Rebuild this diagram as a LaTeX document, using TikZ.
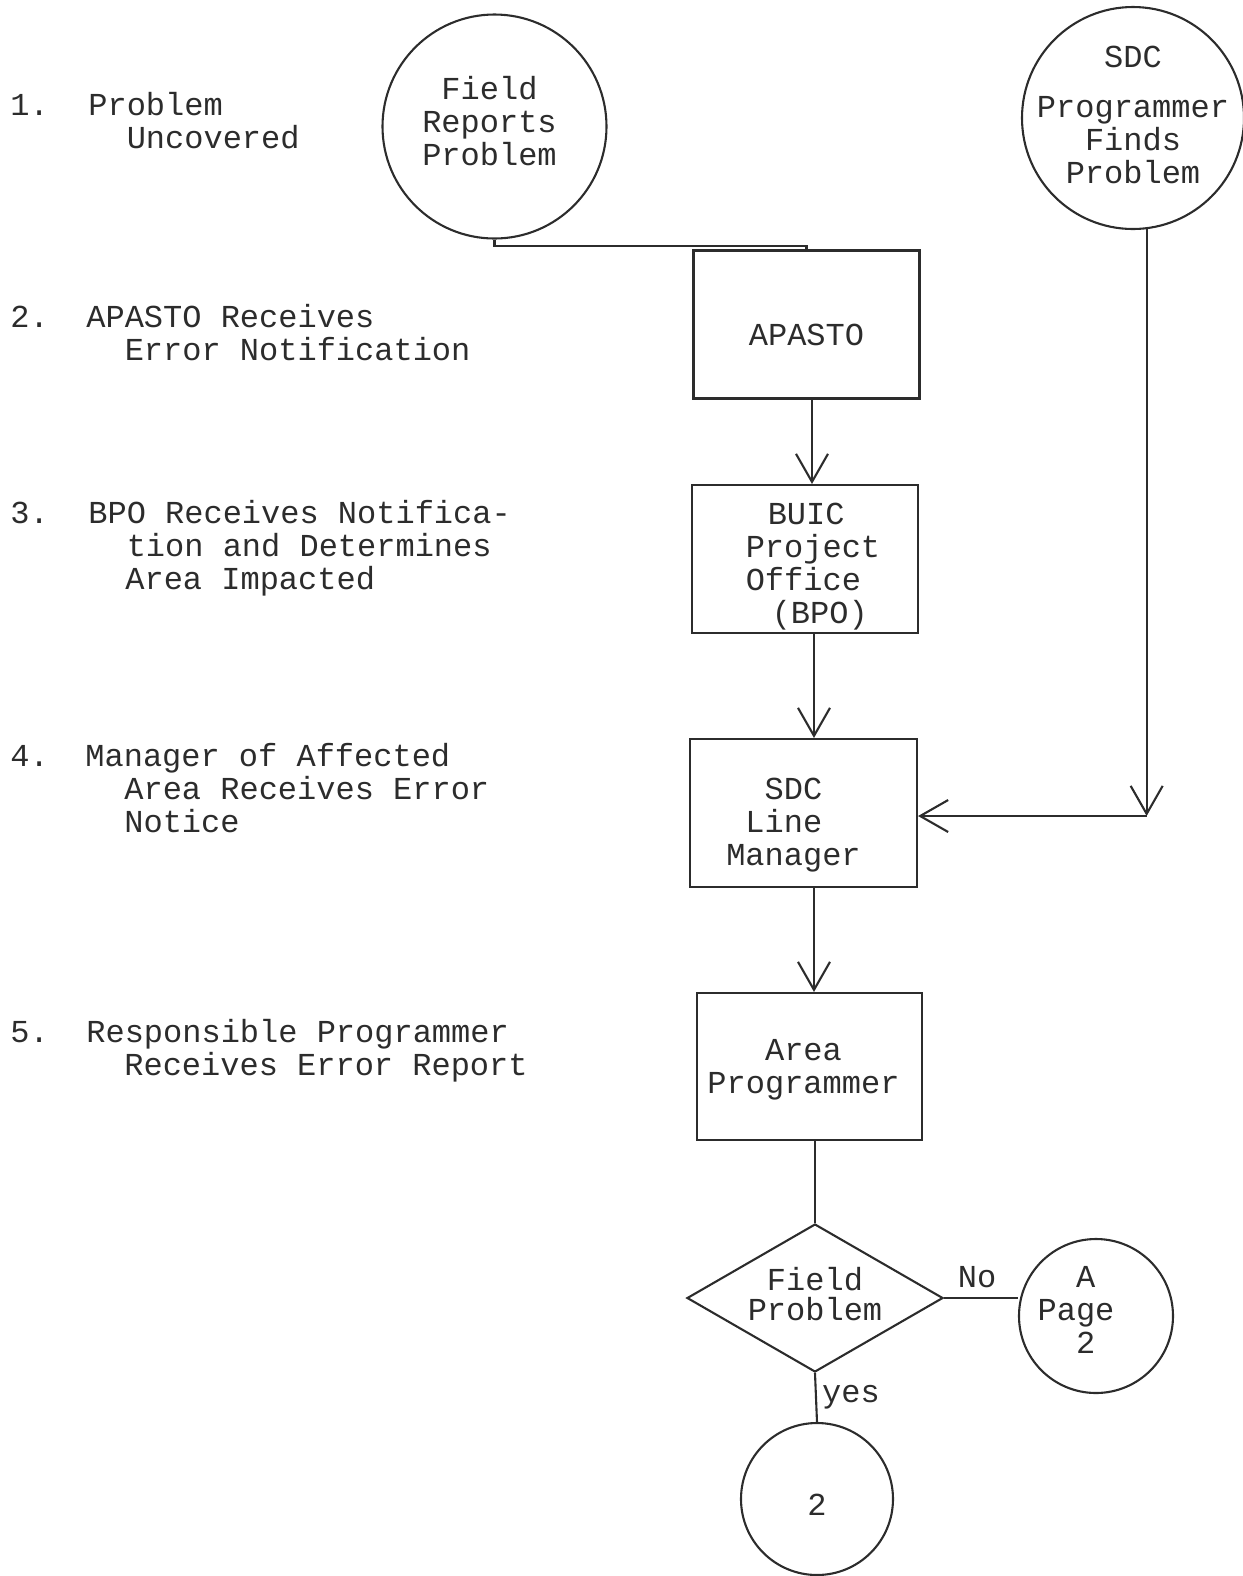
\documentclass[tikz,border=0pt]{standalone}
\usepackage{fontspec}
\setmainfont{Liberation Mono}
\usetikzlibrary{arrows.meta,shapes.geometric}
\definecolor{ink}{HTML}{2C2C2C}
\begin{document}
\begin{tikzpicture}[x=0.5pt,y=-0.5pt,color=ink,
  font=\fontsize{16}{16.5}\selectfont,
  conn/.style={line width=1.05pt},
  arr/.style={conn,-{Straight Barb[length=14pt,width=16pt]}},
  box/.style={draw,conn,minimum width=113pt,minimum height=74pt,inner sep=0pt},
  circ/.style={draw,conn,circle,minimum size=111pt,inner sep=0pt},
  lefttxt/.style={anchor=base west,inner sep=0pt,align=left},
  lbl/.style={inner sep=0pt}]
\useasboundingbox (0,0) rectangle (1243,1576);

% left column texts (base anchor = baseline of last line)
\node[lefttxt] (n1) at (10,115) {1.};
\node[lefttxt] (t1) at (88,148) {Problem\\\hspace*{19.2pt}Uncovered};
\node[lefttxt] (n2) at (10,327) {2.};
\node[lefttxt] (t2) at (86,360) {APASTO Receives\\\hspace*{19.2pt}Error Notification};
\node[lefttxt] (n3) at (10,523) {3.};
\node[lefttxt] (t3) at (88,589) {BPO Receives Notifica-\\\hspace*{19.2pt}tion and Determines\\\hspace*{18.5pt}Area Impacted};
\node[lefttxt] (n4) at (10,766) {4.};
\node[lefttxt] (t4) at (85,832) {Manager of Affected\\\hspace*{19.5pt}Area Receives Error\\\hspace*{19.5pt}Notice};
\node[lefttxt] (n5) at (10,1042) {5.};
\node[lefttxt] (t5) at (86,1075) {Responsible Programmer\\\hspace*{19pt}Receives Error Report};

% flowchart nodes
\node[circ,minimum size=112pt,
  label={[align=center,xshift=-2.5pt,yshift=2.5pt]center:{Field\\Reports\\Problem}}] (fr) at (494.5,126.5) {};
\node[circ,
  label={[align=center,yshift=1.5pt]center:{SDC\\[8.5pt]Programmer\\Finds\\Problem}}] (sdc) at (1133,118) {};
\node[box,label={[yshift=-5pt]center:APASTO}] (apasto) at (806.5,324.5) {};
\node[box,label={[align=left,xshift=4pt,yshift=-3.75pt]center:{\hspace*{11pt}BUIC\\Project\\Office\\\hspace*{13pt}(BPO)}}] (buic) at (805,559) {};
\node[box,minimum width=113.5pt,
  label={[align=left,yshift=-6pt]center:{\hspace*{19.2pt}SDC\\\hspace*{9.6pt}Line\\Manager\hspace*{10pt}}}] (lm) at (803.5,813) {};
\node[box,minimum width=112.5pt,minimum height=73.5pt,
  label={[align=center,xshift=-3pt,yshift=-1.5pt]center:{Area\\Programmer}}] (ap) at (809.5,1066.5) {};
\node[draw,conn,diamond,aspect=1.7,minimum width=128pt,minimum height=74pt,inner sep=0pt,
  label={[align=center,yshift=2pt]center:{Field\\[-1.5pt]Problem}}] (dia) at (815,1298) {};
\node[circ,minimum size=77pt,
  label={[align=left,xshift=-10pt,yshift=3pt]center:{\hspace*{19.2pt}A\\Page\\\hspace*{19.2pt}2}}] (pa) at (1096,1316) {};
\node[circ,minimum size=76pt,label={[yshift=-3pt]center:2}] (c2) at (817,1499) {};

% connectors
\draw[conn] (fr.south) -- ++(0,6) -| (apasto.north);
\draw[arr] ([xshift=2.75pt]apasto.south) -- ([xshift=2.75pt]apasto.south |- buic.north);
\draw[arr] ([xshift=4.5pt]buic.south) -- ([xshift=4.5pt]buic.south |- lm.north);
\draw[arr] ([xshift=5.25pt]lm.south) -- ([xshift=5.25pt]lm.south |- ap.north);
\coordinate (hy) at (0,816);
\coordinate (corner) at (sdc.-83 |- hy);
\draw[arr] (sdc.-83) -- (corner);
\draw[arr] (corner) -- (corner -| lm.east);
\draw[conn] (ap.south -| dia.north) -- (dia.north);
\draw[conn] (dia.east) -- (dia.east -| pa.west);
\draw[conn] (dia.south) -- (c2.north);
\node[lbl] (lno) at (977,1277) {No};
\node[lbl] (lyes) at (851,1397) {yes};
\end{tikzpicture}
\end{document}
